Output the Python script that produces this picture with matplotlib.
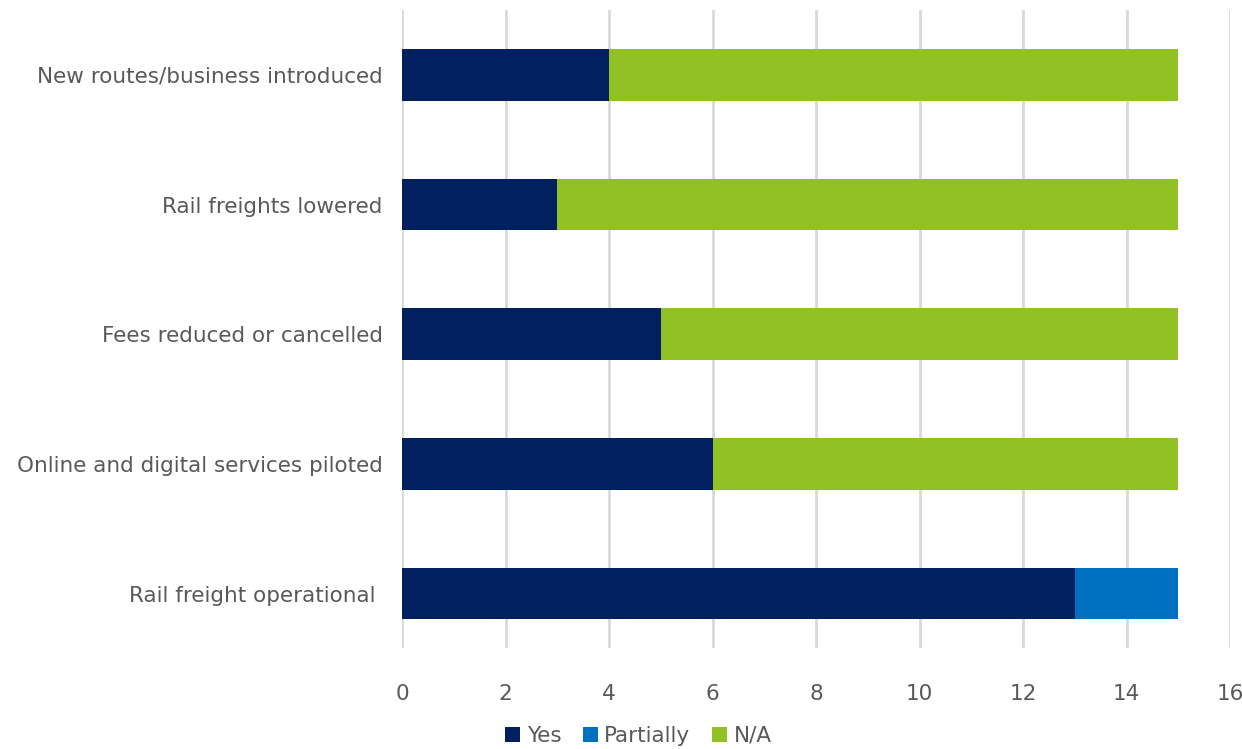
import numpy as np
import matplotlib.pyplot as plt

# Data
categories = ["Rail freight operational ", "Online and digital services piloted",
              "Fees reduced or cancelled", "Rail freights lowered",
              "New routes/business introduced"]
yes = [13, 6, 5, 3, 4]
partially = [2, 0, 0, 0, 0]
na = [0, 9, 10, 12, 11]
series = ["Yes", "Partially", "N/A"]
colors = ["#002060", "#0070C0", "#92C125"]
xticks = [0, 2, 4, 6, 8, 10, 12, 14, 16]

fig = plt.figure(figsize=(12.42, 7.49), dpi=100)
ax = fig.add_axes([402/1242, 1 - 648/749, (1230 - 402)/1242, (648 - 10)/749])

y = np.arange(len(categories))
left = np.zeros(len(categories))
for vals, name, c in zip([yes, partially, na], series, colors):
    ax.barh(y, vals, left=left, height=0.4, color=c, label=name, zorder=3)
    left += np.array(vals)

ax.set_xlim(0, 16)
ax.set_ylim(-0.42, 4.5)
ax.set_xticks(xticks)
ax.set_yticks(y)
ax.set_yticklabels(categories)
ax.grid(axis="x", color="#d9d9d9", linewidth=2, zorder=0)
for s in ax.spines.values():
    s.set_visible(False)
ax.tick_params(axis="both", length=0, labelsize=15.5, colors="#595959")
ax.tick_params(axis="x", pad=26)
ax.tick_params(axis="y", pad=14)

fig.legend(loc="upper center", bbox_to_anchor=(0.514, 0.048), ncol=3, frameon=False,
           fontsize=15.5, handlelength=0.7, handleheight=0.7, handletextpad=0.3,
           columnspacing=1.0, labelcolor="#595959", borderpad=0.1)

fig.savefig("out.png", dpi=100)
